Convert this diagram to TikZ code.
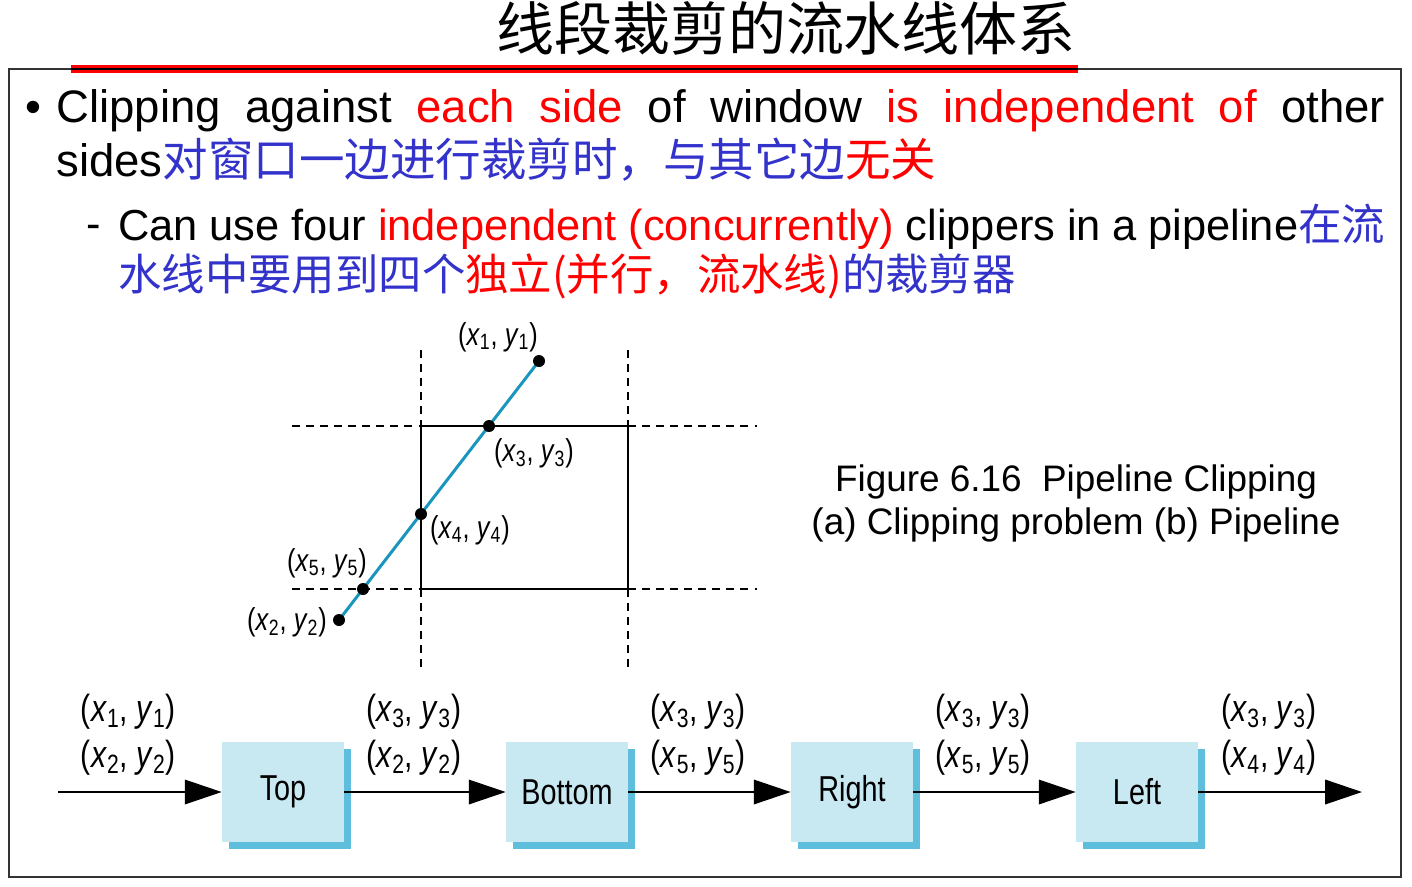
\documentclass[tikz,border=0pt]{standalone}
\usepackage{fontspec}
\setmainfont{Liberation Sans}
\newfontfamily\cjk{Noto Sans CJK SC}
\newfontfamily\figfont[FakeStretch=0.8]{Liberation Sans}
\usetikzlibrary{arrows.meta,shadows}
\definecolor{cnblue}{RGB}{51,51,204}
\definecolor{segcyan}{RGB}{25,150,190}
\definecolor{boxfill}{RGB}{201,233,242}
\definecolor{boxshade}{RGB}{95,190,220}
\definecolor{framegray}{RGB}{51,51,51}
\newcommand{\ptlab}[1]{(\textit{x}\textsubscript{#1}, \textit{y}\textsubscript{#1})}

\begin{document}
\begin{tikzpicture}[x=0.02cm, y=-0.02cm,
    para/.style={anchor=base west, inner sep=0pt, align=justify},
    ptlabel/.style={inner sep=0pt, font=\figfont\fontsize{18}{21}\selectfont},
    pair/.style={above=9pt, pos=0.43, inner sep=0pt, align=center, font=\figfont\fontsize{21.5}{26}\selectfont},
    clipbox/.style={fill=boxfill, minimum width=2.44cm, minimum height=2cm, inner sep=0pt,
        copy shadow={shadow xshift=1.4mm, shadow yshift=-1.4mm, fill=boxshade, draw=none},
        font=\figfont\fontsize{20.5}{24}\selectfont},
    flow/.style={-{Triangle[length=21pt, width=14pt]}, line width=0.9pt},
    window/.style={line width=0.85pt},
    guide/.style={line width=0.85pt, dash pattern=on 4.5pt off 3.5pt}]
    \fill[white] (0,0) rectangle (1412,886);
    \useasboundingbox (0,0) rectangle (1412,886);

    % title and frame
    \node[font=\cjk\fontsize{33}{36}\selectfont] (title) at (786,28) {线段裁剪的流水线体系};
    \draw[framegray, line width=1.2pt] (9,69) rectangle (1401,877);
    \draw[red, line width=4.5pt] (71,69) -- (1078,69);
    \draw[black, line width=1.1pt] (71,69) -- (1078,69);

    % bullet text
    \node[font=\fontsize{25.9}{31}\selectfont] (dot) at (33,112) {\textbullet};
    \node[para, text width=26.58cm, font=\fontsize{25.9}{31}\selectfont] (item) at (56,122)
        {\noindent Clipping against \textcolor{red}{each side} of window \textcolor{red}{is independent of} other\linebreak
        sides\textcolor{cnblue}{\cjk 对窗口一边进行裁剪时，与其它边}\textcolor{red}{\cjk 无关}};
    \node[font=\fontsize{24.7}{28.5}\selectfont] (dash) at (94,232) {-};
    \node[para, text width=25.34cm, font=\fontsize{24.7}{28.5}\selectfont] (subitem) at (118,240)
        {\noindent Can use four \textcolor{red}{independent (concurrently)} clippers in a pipeline\textcolor{cnblue}{\cjk 在流}\linebreak
        \textcolor{cnblue}{\cjk 水线中要用到四个}\textcolor{red}{\cjk 独立(并行，流水线)}\textcolor{cnblue}{\cjk 的裁剪器}};

    % (a) clipping problem
    \draw[guide] (292,426) -- (421,426) (628,426) -- (757,426);
    \draw[guide] (292,589) -- (421,589) (628,589) -- (757,589);
    \draw[guide] (421,350) -- (421,426) (421,589) -- (421,668);
    \draw[guide] (628,350) -- (628,426) (628,589) -- (628,668);
    \draw[window] (421,426) rectangle (628,589);

    \coordinate (p1) at (539,361);
    \coordinate (p2) at (339,620);
    \coordinate (p3) at (489,426);
    \coordinate (p4) at (421,514);
    \coordinate (p5) at (363,589);
    \draw[segcyan, line width=1.7pt] (p2) -- (p1);
    \foreach \p in {p1,p2,p3,p4,p5}
        \fill (\p) circle[radius=0.12cm];

    \node[ptlabel] (l1) at (498,337) {\ptlab{1}};
    \node[ptlabel] (l3) at (534,453) {\ptlab{3}};
    \node[ptlabel] (l4) at (470,530) {\ptlab{4}};
    \node[ptlabel] (l5) at (327,563) {\ptlab{5}};
    \node[ptlabel] (l2) at (287,622) {\ptlab{2}};

    \node[align=center, font=\fontsize{21}{24.5}\selectfont] (caption) at (1076,503)
        {Figure 6.16~~Pipeline Clipping\\(a) Clipping problem (b) Pipeline};

    % (b) pipeline
    \node[clipbox] (topclip) at (283,792) {Top};
    \node[clipbox] (botclip) at (567,792) {Bottom};
    \node[clipbox] (rightclip) at (852,792) {Right};
    \node[clipbox] (leftclip) at (1137,792) {Left};
    \coordinate (in) at (58,792);
    \coordinate (out) at (1362,792);

    \draw[flow] (in) -- node[pair] {\ptlab{1}\\\ptlab{2}} (topclip);
    \draw[flow] (topclip) -- node[pair] {\ptlab{3}\\\ptlab{2}} (botclip);
    \draw[flow] (botclip) -- node[pair] {\ptlab{3}\\\ptlab{5}} (rightclip);
    \draw[flow] (rightclip) -- node[pair] {\ptlab{3}\\\ptlab{5}} (leftclip);
    \draw[flow] (leftclip) -- node[pair] {\ptlab{3}\\\ptlab{4}} (out);
\end{tikzpicture}
\end{document}
